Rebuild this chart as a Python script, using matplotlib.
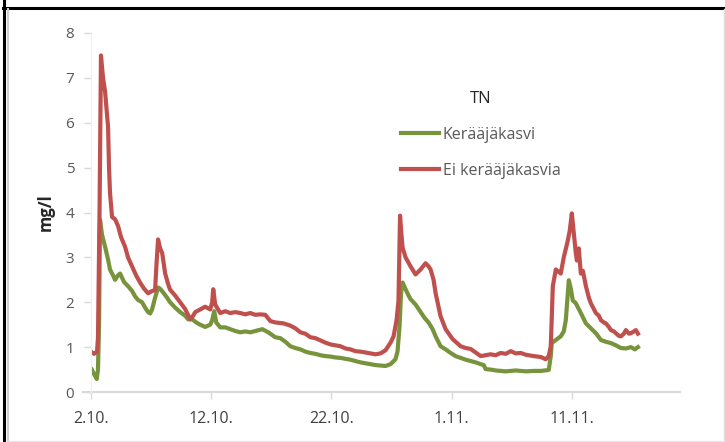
import numpy as np
import matplotlib
matplotlib.use("Agg")
import matplotlib.pyplot as plt
from matplotlib.lines import Line2D

plt.rcParams['font.family'] = ['Open Sans', 'DejaVu Sans']

# days since 2.10.
red_days = [0.06, 0.25, 0.5, 0.58, 0.71, 0.83, 1.0, 1.17, 1.33, 1.42, 1.5, 1.58, 1.75, 2.0,
            2.25, 2.5, 2.83, 3.08, 3.42, 3.75, 4.08, 4.42, 4.75, 5.08, 5.33, 5.46, 5.58, 5.75,
            5.92, 6.17, 6.42, 6.58, 7.0, 7.42, 7.83, 8.25, 8.5, 8.67, 9.08, 9.5, 9.92, 10.08,
            10.17, 10.33, 10.75, 11.17, 11.58, 12.0, 12.42, 12.83, 13.25, 13.67, 14.08, 14.5,
            14.92, 15.33, 16.0, 16.58, 17.0, 17.42, 17.83, 18.25, 18.67, 19.08, 19.5, 19.92,
            20.33, 20.75, 21.17, 21.58, 22.0, 22.42, 22.83, 23.25, 23.67, 24.08, 24.5, 24.92,
            25.17, 25.42, 25.58, 25.71, 25.83, 25.92, 26.17, 26.58, 27.0, 27.42, 27.83, 28.08,
            28.25, 28.5, 28.67, 29.08, 29.5, 30.08, 30.75, 31.17, 31.58, 32.0, 32.42, 32.83,
            33.25, 33.67, 34.08, 34.5, 34.92, 35.33, 35.75, 36.17, 36.83, 37.42, 37.83, 38.08,
            38.25, 38.42, 38.67, 39.08, 39.33, 39.67, 39.83, 40.0, 40.17, 40.33, 40.42, 40.58,
            40.75, 40.92, 41.17, 41.42, 41.58, 41.83, 42.0, 42.25, 42.42, 42.67, 42.83, 43.08,
            43.25, 43.5, 43.67, 43.92, 44.08, 44.33, 44.5, 44.75, 44.92, 45.17, 45.33, 45.5]
red_vals = [0.89, 0.85, 0.9, 1.2, 4.0, 7.5, 7.0, 6.7, 6.2, 5.9, 5.0, 4.44, 3.9, 3.85,
            3.7, 3.45, 3.24, 3.0, 2.8, 2.6, 2.44, 2.3, 2.2, 2.25, 2.27, 2.9, 3.4, 3.2,
            3.1, 2.64, 2.4, 2.28, 2.15, 2.0, 1.85, 1.62, 1.7, 1.78, 1.84, 1.9, 1.84, 2.0,
            2.29, 1.95, 1.76, 1.8, 1.76, 1.78, 1.76, 1.73, 1.76, 1.72, 1.73, 1.72,
            1.58, 1.55, 1.53, 1.48, 1.42, 1.33, 1.3, 1.22, 1.2, 1.15, 1.1, 1.06,
            1.04, 1.02, 0.97, 0.95, 0.91, 0.9, 0.88, 0.86, 0.84, 0.86, 0.93, 1.1,
            1.24, 1.6, 2.04, 3.93, 3.5, 3.22, 3.0, 2.8, 2.62, 2.73, 2.87, 2.8,
            2.73, 2.5, 2.2, 1.69, 1.4, 1.18, 1.02, 0.98, 0.96, 0.88, 0.8, 0.82,
            0.84, 0.82, 0.87, 0.85, 0.91, 0.86, 0.87, 0.83, 0.8, 0.78, 0.73, 0.8,
            1.02, 2.36, 2.73, 2.64, 3.0, 3.38, 3.6, 3.98, 3.53, 3.1, 2.93, 3.2,
            2.64, 2.7, 2.36, 2.1, 1.98, 1.85, 1.76, 1.7, 1.6, 1.55, 1.53, 1.45,
            1.38, 1.35, 1.31, 1.25, 1.24, 1.3, 1.38, 1.3, 1.31, 1.35, 1.38, 1.3]

green_days = [0.06, 0.25, 0.48, 0.58, 0.67, 0.75, 0.92, 1.17, 1.42, 1.58, 1.83, 2.0, 2.25,
              2.42, 2.75, 3.08, 3.42, 3.67, 3.92, 4.25, 4.5, 4.75, 4.92, 5.08, 5.33, 5.58,
              5.75, 6.0, 6.33, 6.58, 7.0, 7.42, 7.83, 8.08, 8.42, 8.75, 9.08, 9.5, 9.92,
              10.08, 10.25, 10.42, 10.75, 11.17, 11.58, 12.0, 12.42, 12.83, 13.25, 13.67,
              14.25, 14.75, 15.33, 15.75, 16.17, 16.58, 17.0, 17.42, 17.83, 18.25, 18.67,
              19.08, 19.5, 19.92, 20.33, 20.75, 21.17, 21.58, 22.0, 22.42, 22.83, 23.25,
              23.67, 24.08, 24.5, 24.92, 25.33, 25.5, 25.67, 25.79, 25.92, 26.17, 26.42,
              26.58, 27.0, 27.42, 27.75, 28.08, 28.42, 28.67, 29.08, 29.5, 29.92, 30.33,
              30.75, 31.17, 31.58, 32.0, 32.42, 32.67, 32.83, 33.25, 33.67, 34.08, 34.5,
              34.92, 35.33, 35.75, 36.17, 36.83, 37.42, 38.08, 38.25, 38.33, 38.67, 39.08,
              39.33, 39.5, 39.67, 39.75, 39.92, 40.08, 40.33, 40.75, 41.17, 41.58, 42.0,
              42.42, 42.83, 43.25, 43.67, 44.08, 44.5, 44.92, 45.25, 45.5]
green_vals = [0.5, 0.4, 0.29, 0.5, 1.5, 3.84, 3.5, 3.24, 2.95, 2.73, 2.6, 2.5, 2.6,
              2.64, 2.45, 2.36, 2.25, 2.13, 2.05, 2.0, 1.88, 1.78, 1.75, 1.84, 2.1, 2.33,
              2.3, 2.22, 2.1, 2.0, 1.88, 1.78, 1.7, 1.62, 1.62, 1.55, 1.5, 1.45, 1.5,
              1.6, 1.8, 1.55, 1.44, 1.44, 1.4, 1.36, 1.33, 1.35, 1.33, 1.36,
              1.4, 1.33, 1.22, 1.2, 1.12, 1.02, 0.98, 0.95, 0.9, 0.87, 0.85,
              0.82, 0.8, 0.79, 0.77, 0.76, 0.74, 0.72, 0.69, 0.66, 0.64, 0.62,
              0.6, 0.59, 0.58, 0.62, 0.73, 0.9, 1.47, 2.2, 2.44, 2.29, 2.15,
              2.07, 1.95, 1.78, 1.65, 1.55, 1.4, 1.24, 1.02, 0.95, 0.87, 0.8,
              0.76, 0.72, 0.69, 0.66, 0.62, 0.6, 0.51, 0.5, 0.48, 0.47, 0.46,
              0.47, 0.48, 0.47, 0.46, 0.47, 0.47, 0.49, 0.8, 1.09, 1.16, 1.24,
              1.35, 1.6, 2.2, 2.49, 2.3, 2.04, 1.98, 1.76, 1.53, 1.42, 1.31,
              1.16, 1.12, 1.09, 1.04, 0.98, 0.97, 1.0, 0.95, 1.0]

tick_days = [0, 10, 20, 30, 40]
tick_labels = ["2.10.", "12.10.", "22.10.", "1.11.", "11.11."]
series_names = ["Kerääjäkasvi", "Ei kerääjäkasvia"]

green = "#77933C"
red = "#C0504D"
text_col = "#595959"

fig = plt.figure(figsize=(7.25, 4.42), dpi=100)
ax = fig.add_axes([91/725, 50/442, 589/725, 359/442])

ax.plot(green_days, green_vals, color=green, lw=3.0, label=series_names[0])
ax.plot(red_days, red_vals, color=red, lw=3.0, label=series_names[1])

ax.set_xlim(0, 49)
ax.set_ylim(0, 8)
for s in ["top", "right", "bottom"]:
    ax.spines[s].set_visible(False)
ax.spines["left"].set_color("#f0f0f0")
ax.axhline(0, xmin=-8/589, xmax=1, color="#d9d9d9", lw=1.5, clip_on=False, zorder=0)

ax.set_yticks(range(0, 9))
ax.set_xticks(tick_days)
ax.set_xticklabels(tick_labels)
ax.tick_params(axis="y", direction="out", length=5, color="#d9d9d9", width=1,
               labelsize=11, labelcolor=text_col, pad=7)
ax.tick_params(axis="x", direction="out", length=5, color="#d9d9d9", width=1,
               labelsize=11.5, labelcolor="#404040", pad=9)
ax.set_ylabel("mg/l", fontsize=12, fontweight="bold", color="#262626", labelpad=8)

leg = ax.legend(loc="upper left", bbox_to_anchor=(393/725, 1 - 83/442),
                bbox_transform=fig.transFigure, frameon=False, title="TN",
                fontsize=11.5, title_fontsize=12, handlelength=2.4, handletextpad=0.2,
                labelspacing=1.25, borderpad=0)
for t in leg.get_texts():
    t.set_color(text_col)
leg.get_title().set_color("#262626")
leg._legend_box.align = "center"

# frame around the picture
fig.add_artist(Line2D([3.5/725, 3.5/725], [0, 1], color="black", lw=2.2))
fig.add_artist(Line2D([3/725, 1], [1 - 7.5/442, 1 - 7.5/442], color="black", lw=2.2))
fig.add_artist(Line2D([7.5/725, 7.5/725], [0, 1 - 9/442], color="#d0d0d0", lw=1.5))
fig.add_artist(Line2D([723.5/725, 723.5/725], [0, 1 - 9/442], color="#e0e0e0", lw=1))
fig.add_artist(Line2D([6/725, 1], [0.6/442, 0.6/442], color="#e6e6e6", lw=1))

fig.savefig("out.png", dpi=100)
